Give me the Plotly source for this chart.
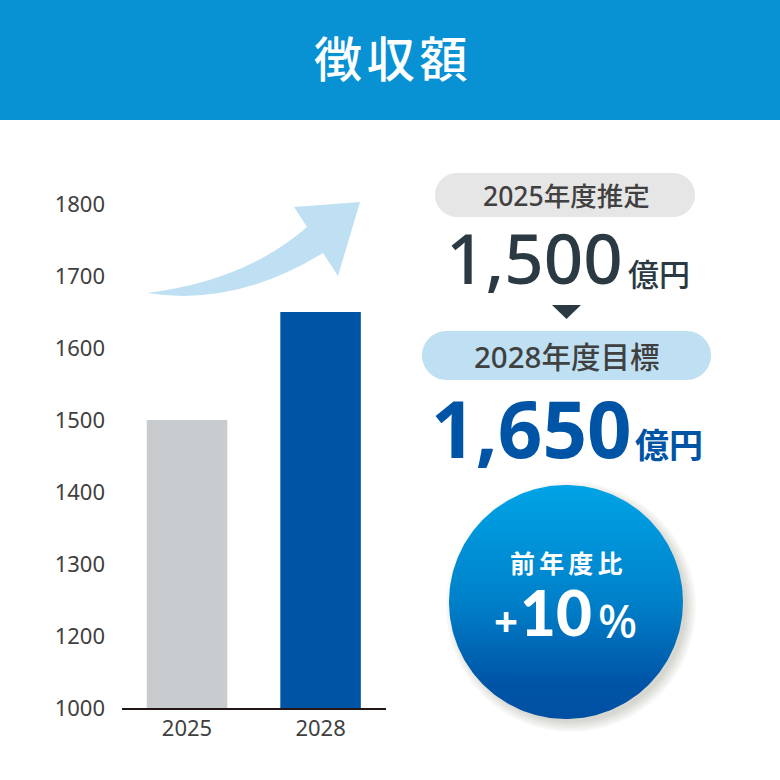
import numpy as np
import plotly.graph_objects as go

# Chart data
years = ["2025", "2028"]
amounts = [1500, 1650]
tick_vals = [1100, 1200, 1300, 1400, 1500, 1600, 1700, 1800]
# the picture labels the baseline 1000, one step below 1200
tick_text = ["1000", "1200", "1300", "1400", "1500", "1600", "1700", "1800"]

FONT = "Noto Sans, Noto Sans CJK JP"
HEADER = "#0891D3"
DARK = "#2B3A42"
BLUE = "#0054A6"
GREY_TEXT = "#404040"


def pill_path(x0, y0, x1, y1):
    # Rounded ends drawn with beziers, arcs are not available on shapes
    r = (y1 - y0) / 2
    k = r * 0.5523
    ym = (y0 + y1) / 2
    return (
        f"M{x0 + r},{y0} L{x1 - r},{y0} "
        f"C{x1 - r + k},{y0} {x1},{ym - k} {x1},{ym} "
        f"C{x1},{ym + k} {x1 - r + k},{y1} {x1 - r},{y1} "
        f"L{x0 + r},{y1} "
        f"C{x0 + r - k},{y1} {x0},{ym + k} {x0},{ym} "
        f"C{x0},{ym - k} {x0 + r - k},{y0} {x0 + r},{y0} Z"
    )


def shape(**kw):
    # Decorations live on a second axis pair that runs in page pixels
    return dict(xref="x2", yref="y2", layer="below", **kw)


def label(text, x, y, size, color, anchor="center", weight=400, family=FONT):
    return dict(
        text=text, x=x, y=y, xref="x2", yref="y2",
        xanchor=anchor, yanchor="middle", showarrow=False,
        font=dict(family=family, size=size, color=color, weight=weight),
    )


fig = go.Figure()

# Bars
fig.add_trace(go.Bar(
    x=years,
    y=amounts,
    width=0.603,
    marker=dict(color=["#C9CCCF", BLUE], line=dict(width=0)),
    hoverinfo="skip",
))

# Gradient badge
cx, cy, r = 566, 602, 117
t = np.linspace(0, 2 * np.pi, 240)
fig.add_trace(go.Scatter(
    x=cx + r * np.cos(t),
    y=cy + r * np.sin(t),
    xaxis="x2",
    yaxis="y2",
    mode="lines",
    line=dict(width=0),
    fill="toself",
    fillgradient=dict(
        type="vertical",
        start=cy - r,
        stop=cy + r,
        colorscale=[[0, "#00A4E6"], [0.5, "#0080C9"], [0.85, "#0054A6"], [1, "#0050A2"]],
    ),
    hoverinfo="skip",
))

shapes = [
    shape(type="rect", x0=0, x1=780, y0=0, y1=120, fillcolor=HEADER, line_width=0),
    shape(type="path", path=pill_path(435, 173, 695, 217), fillcolor="#E6E6E6", line_width=0),
    shape(type="path", path=pill_path(422, 331, 711, 380), fillcolor="#BFE0F2", line_width=0),
    shape(type="path", path="M552,305 L581,305 L566.5,319 Z", fillcolor=DARK, line_width=0),
    # rising arrow above the bars
    shape(
        type="path",
        path="M147,293 Q245,281 307,227 L294,207 L360,202 L338,276 L323,253 "
             "Q235,307 147,293 Z",
        fillcolor="#BFE0F2",
        line_width=0,
    ),
]
# Soft shadow under the badge
for grow in [8, 6, 4, 2, 0, -2]:
    shapes.append(shape(
        type="circle",
        x0=cx - r - grow + 5, x1=cx + r + grow + 5,
        y0=cy - r - grow + 5, y1=cy + r + grow + 5,
        fillcolor="#3A3028", opacity=0.035, line_width=0,
    ))

annotations = [
    label("徴\u200a収\u200a額", 390.5, 58, 48, "white", weight=500),
    label("2025年度推定", 566.5, 196, 26.5, GREY_TEXT, weight=500),
    label("1,500", 625, 257, 69, DARK, "right", 550),
    label("億円", 626, 274, 31, DARK, "left", 500),
    label("2028年度目標", 566.5, 356, 29.5, GREY_TEXT, weight=500),
    label("1,650", 634, 428, 78, BLUE, "right", 700),
    label("億円", 633, 445, 34, BLUE, "left", 700),
    label("前\u2009年\u2009度\u2009比", 566, 563, 25, "white", weight=700),
    label("+", 506, 620, 42, "white", weight=700),
    label("10", 556, 612, 62, "white", weight=900, family="Lato"),
    label("%", 617, 620, 46, "white", weight=500),
]

fig.update_layout(
    width=780,
    height=780,
    autosize=False,
    margin=dict(l=0, r=0, t=0, b=0),
    paper_bgcolor="white",
    plot_bgcolor="rgba(0,0,0,0)",
    showlegend=False,
    font=dict(family=FONT, color=GREY_TEXT),
    shapes=shapes,
    annotations=annotations,
    xaxis=dict(
        domain=[122 / 780, 386 / 780],
        type="category",
        range=[-0.487, 1.49],
        automargin=False,
        showline=True,
        linecolor="#231815",
        linewidth=2,
        showgrid=False,
        zeroline=False,
        ticks="",
        ticklabelstandoff=0,
        tickfont=dict(size=22, color=GREY_TEXT, family=FONT, weight=450),
    ),
    yaxis=dict(
        domain=[72 / 780, 576 / 780],
        range=[1100, 1800],
        automargin=False,
        tickmode="array",
        tickvals=tick_vals,
        ticktext=tick_text,
        showgrid=False,
        showline=False,
        zeroline=False,
        ticks="",
        ticklabelstandoff=16,
        tickfont=dict(size=22, color=GREY_TEXT, family=FONT, weight=450),
    ),
    xaxis2=dict(domain=[0, 1], range=[0, 780], visible=False, anchor="y2", automargin=False),
    yaxis2=dict(domain=[0, 1], range=[780, 0], visible=False, anchor="x2", automargin=False),
)

fig.write_html(
    "out.html",
    config=dict(displayModeBar=False),
    post_script="document.body.style.margin='0';",
)
